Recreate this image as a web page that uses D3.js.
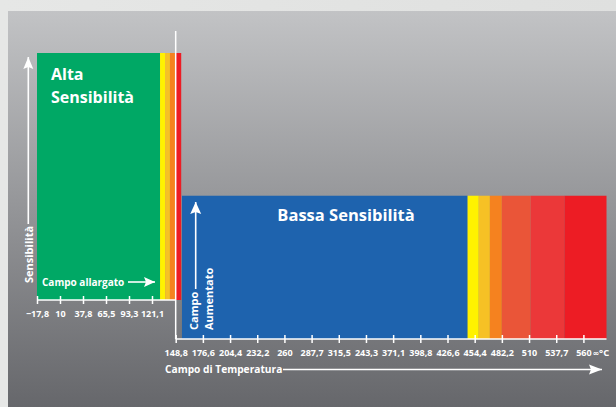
<!DOCTYPE html>
<html>
<head>
<meta charset="utf-8">
<script src="https://cdn.jsdelivr.net/npm/d3@7"></script>
<style>
  html, body { margin: 0; padding: 0; background: #e3e4e3; }
  svg { display: block; font-family: "Open Sans", "Noto Sans", sans-serif; }
</style>
</head>
<body>
<svg id="chart" width="616" height="407"></svg>
<script>
// ---- data ----
const upperTickLabels = ["\u221217,8", "10", "37,8", "65,5", "93,3", "121,1"];
const lowerTickLabels = ["148,8", "176,6", "204,4", "232,2", "260", "287,7", "315,5", "243,3",
                         "371,1", "398,8", "426,6", "454,4", "482,2", "510", "537,7", "560"];
// sensitivity level of each zone (relative height)
const zoneNames = ["Alta", "Sensibilità", "Bassa Sensibilità"];
const zoneSensitivity = [100, 58];
// colour bands, expressed in tick-index units of each axis
const upperBandStart = [0, 5.35, 5.57, 5.78, 6.04];
const upperBandEnd   = [5.35, 5.57, 5.78, 6.04, 6.27];
const lowerBandStart = [0.23, 10.74, 11.15, 11.56, 12.0, 13.06, 14.3];
const lowerBandEnd   = [10.74, 11.15, 11.56, 12.0, 13.06, 14.3, 15.85];
const upperAxisEnd = 6.03;   // index where the upper axis meets the lower one
const lowerAxisEnd = 15.85;

// ---- styles ----
const upperBandColors = ["#00a865", "#fff200", "#f6c125", "#f5821f", "#ed1c24"];
const lowerBandColors = ["#1e63ae", "#fff200", "#f6c125", "#f5821f", "#ea5538", "#eb3839", "#ed1c24"];

const svg = d3.select("#chart");
const defs = svg.append("defs");
const grad = defs.append("linearGradient").attr("id", "bg").attr("x1", 0).attr("y1", 0).attr("x2", 0).attr("y2", 1);
grad.append("stop").attr("offset", "0%").attr("stop-color", "#c2c3c5");
grad.append("stop").attr("offset", "100%").attr("stop-color", "#66676b");
const outer = defs.append("linearGradient").attr("id", "outer").attr("x1", 0).attr("y1", 0).attr("x2", 1).attr("y2", 0);
outer.append("stop").attr("offset", "0%").attr("stop-color", "#e6e7e6");
outer.append("stop").attr("offset", "100%").attr("stop-color", "#dfe0df");

svg.append("rect").attr("width", 616).attr("height", 407).attr("fill", "url(#outer)");
svg.append("rect").attr("x", 8).attr("y", 11).attr("width", 608).attr("height", 396).attr("fill", "url(#bg)");

// ---- scales ----
const xUpper = d3.scaleLinear().domain([0, 5]).range([37, 152]);
const xLower = d3.scaleLinear().domain([0, 15]).range([175.7, 583.4]);
const yUpper = d3.scaleLinear().domain([0, 100]).range([300, 53]);
const yLower = d3.scaleLinear().domain([0, 100]).range([339, 92]);

// ---- bands ----
svg.append("g").selectAll("rect").data(upperBandStart).join("rect")
  .attr("x", (d) => xUpper(d))
  .attr("width", (d, i) => xUpper(upperBandEnd[i]) - xUpper(d))
  .attr("y", yUpper(zoneSensitivity[0]))
  .attr("height", yUpper(0) - yUpper(zoneSensitivity[0]))
  .attr("fill", (d, i) => upperBandColors[i]);

svg.append("g").selectAll("rect").data(lowerBandStart).join("rect")
  .attr("x", (d) => xLower(d))
  .attr("width", (d, i) => xLower(lowerBandEnd[i]) - xLower(d))
  .attr("y", yLower(zoneSensitivity[1]))
  .attr("height", yLower(0) - yLower(zoneSensitivity[1]))
  .attr("fill", (d, i) => lowerBandColors[i]);

// ---- vertical separator ----
svg.append("line")
  .attr("x1", xUpper(upperAxisEnd)).attr("x2", xUpper(upperAxisEnd))
  .attr("y1", 31).attr("y2", yLower(0))
  .attr("stroke", "#fff").attr("stroke-width", 1.5);

// ---- axes ----
function styleAxis(g) {
  g.select(".domain").remove();
  g.selectAll(".tick line").attr("y1", -4).attr("y2", 4).attr("stroke", "#fff").attr("stroke-width", 1.5);
  g.selectAll(".tick text").attr("y", 17).attr("dy", 0)
    .attr("fill", "#fff").attr("font-size", 9).attr("font-weight", 700)
    .attr("font-family", "'Open Sans', sans-serif");
}
const gUp = svg.append("g").attr("transform", `translate(0,${yUpper(0)})`)
  .call(d3.axisBottom(xUpper).tickValues(d3.range(upperTickLabels.length)).tickFormat((i) => upperTickLabels[i]))
  .call(styleAxis);
gUp.append("line").attr("x1", xUpper(0)).attr("x2", xUpper(upperAxisEnd)).attr("stroke", "#fff").attr("stroke-width", 1.5);

const gLow = svg.append("g").attr("transform", `translate(0,${yLower(0)})`)
  .call(d3.axisBottom(xLower).tickValues(d3.range(lowerTickLabels.length)).tickFormat((i) => lowerTickLabels[i]))
  .call(styleAxis);
gLow.append("line").attr("x1", xLower(0)).attr("x2", xLower(lowerAxisEnd)).attr("stroke", "#fff").attr("stroke-width", 1.5);
const unit = gLow.append("text").attr("x", xLower(15) + 9).attr("y", 17)
  .attr("text-anchor", "start").attr("font-family", "'Open Sans', sans-serif")
  .attr("fill", "#fff").attr("font-size", 8.5).attr("font-weight", 700);
unit.append("tspan").attr("font-family", "'DejaVu Sans', sans-serif").attr("font-size", 8).text("\u221e");
unit.append("tspan").attr("font-size", 9.5).text("\u00b0C");

// ---- arrows ----
function arrow(x1, y1, x2, y2, len, wid) {
  svg.append("line").attr("x1", x1).attr("y1", y1).attr("x2", x2).attr("y2", y2)
    .attr("stroke", "#fff").attr("stroke-width", 1.6);
  const ang = Math.atan2(y2 - y1, x2 - x1);
  const bx = x2 - len * Math.cos(ang), by = y2 - len * Math.sin(ang);
  const px = -Math.sin(ang) * wid / 2, py = Math.cos(ang) * wid / 2;
  svg.append("path").attr("d", `M${x2},${y2}L${bx + px},${by + py}L${bx + 2 * Math.cos(ang)},${by + 2 * Math.sin(ang)}L${bx - px},${by - py}Z`)
    .attr("fill", "#fff");
}
// y axis arrow (Sensibilità)
arrow(28.3, 224, 28.3, 57, 12, 10);
// Campo aumentato arrow
arrow(195.7, 289, 195.7, 202, 12, 11);
// Campo allargato arrow
arrow(128, 282, 155, 282, 11, 10);
// Campo di Temperatura arrow
arrow(283, 369.5, 602, 369.5, 13, 10);

// ---- texts ----
const txt = (x, y, s, size, anchor = "start", rot = 0) => {
  const t = svg.append("text").attr("fill", "#fff").attr("font-weight", 700).attr("font-size", size)
    .attr("text-anchor", anchor).text(s);
  if (rot) t.attr("transform", `translate(${x},${y}) rotate(${rot})`);
  else t.attr("x", x).attr("y", y);
  return t;
};
txt(51, 79.5, zoneNames[0], 16);
txt(51, 102.5, zoneNames[1], 16);
txt(346, 221, zoneNames[2], 16.5, "middle");
txt(42, 285.5, "Campo allargato", 10);
txt(165, 372.5, "Campo di Temperatura", 10.2);
txt(32.5, 283, "Sensibilità", 11, "start", -90);
txt(198, 330, "Campo", 11, "start", -90);
txt(212.5, 330, "Aumentato", 11, "start", -90);
</script>
</body>
</html>
